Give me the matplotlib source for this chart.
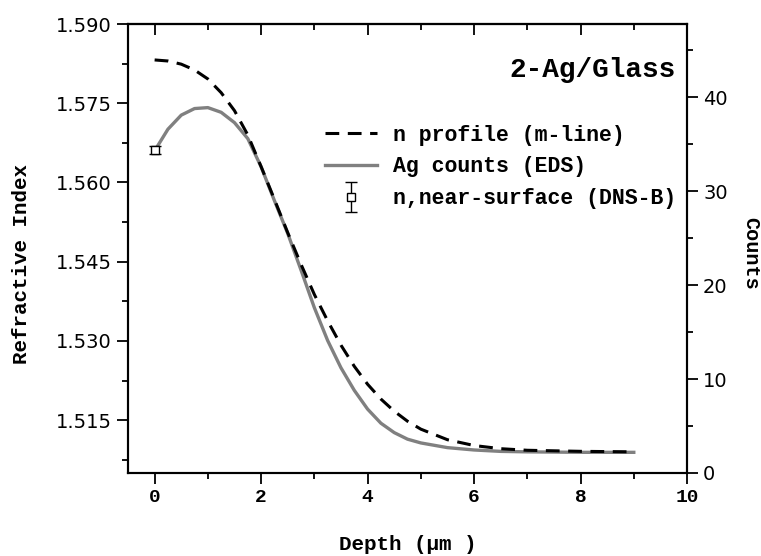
import matplotlib.pyplot as plt
from matplotlib.ticker import MultipleLocator
from matplotlib.container import ErrorbarContainer
from matplotlib.legend_handler import HandlerErrorbar

# refractive index profile from m-line (dashed)
depth_n = [0.0, 0.25, 0.5, 0.75, 1.0, 1.25, 1.5, 1.75, 2.0, 2.25, 2.5, 2.75, 3.0, 3.25,
           3.5, 3.75, 4.0, 4.25, 4.5, 4.75, 5.0, 5.5, 6.0, 6.5, 7.0, 7.5, 8.0, 9.0]
n_profile = [1.5832, 1.5830, 1.5824, 1.5813, 1.5796, 1.5770, 1.5736, 1.5690, 1.5630,
             1.5568, 1.5505, 1.5445, 1.5388, 1.5338, 1.5292, 1.5252, 1.5218, 1.5190,
             1.5167, 1.5148, 1.5133, 1.5113, 1.5102, 1.5096, 1.5093, 1.5092, 1.5091, 1.5090]

# Ag counts from EDS (grey)
depth_ag = [0.0, 0.25, 0.5, 0.75, 1.0, 1.25, 1.5, 1.75, 2.0, 2.25, 2.5, 2.75, 3.0, 3.25,
            3.5, 3.75, 4.0, 4.25, 4.5, 4.75, 5.0, 5.5, 6.0, 6.5, 7.0, 8.0, 9.0]
ag_counts = [34.3, 36.6, 38.1, 38.8, 38.9, 38.4, 37.3, 35.6, 32.6, 29.0, 25.5, 21.6, 17.6,
             14.1, 11.2, 8.8, 6.8, 5.3, 4.3, 3.6, 3.2, 2.7, 2.45, 2.3, 2.25, 2.2, 2.2]

# near-surface index point
surf_depth = [0.0]
surf_n = [1.5662]
surf_err = [0.0008]

x_ticks = [0, 2, 4, 6, 8, 10]
x_labels = ['0', '2', '4', '6', '8', '10']

mono = 'Liberation Mono'
bold = dict(family=mono, weight='bold')

fig = plt.figure(figsize=(7.61, 5.56), dpi=100)
ax = fig.add_axes([0.1682, 0.1493, 0.7346, 0.8075])
ax2 = ax.twinx()
ax.set_zorder(ax2.get_zorder() + 1)
ax.patch.set_visible(False)

l2, = ax2.plot(depth_ag, ag_counts, color='#808080', lw=2.4)
l1, = ax.plot(depth_n, n_profile, color='black', lw=2.2, dashes=(4.5, 2.8))
eb = ax.errorbar(surf_depth, surf_n, yerr=surf_err, fmt='s', mfc='white', mec='black',
                 ecolor='black', ms=6, mew=1.0, capsize=4, elinewidth=1.0, zorder=5)

ax.set_xlim(-0.5, 10)
ax.set_ylim(1.505, 1.590)
ax2.set_ylim(0, 47.8)

ax.set_xticks(x_ticks)
ax.set_xticklabels(x_labels, fontsize=14, **bold)
ax.xaxis.set_minor_locator(MultipleLocator(1))
ax.yaxis.set_major_locator(MultipleLocator(0.015))
ax.yaxis.set_minor_locator(MultipleLocator(0.0075))
ax.yaxis.set_major_formatter(plt.FormatStrFormatter('%.3f'))
ax2.yaxis.set_major_locator(MultipleLocator(10))
ax2.yaxis.set_minor_locator(MultipleLocator(5))

for a in (ax, ax2):
    a.tick_params(which='both', direction='out', width=1.3, labelsize=14)
    a.tick_params(which='major', length=8)
    a.tick_params(which='minor', length=4.5)
    for s in a.spines.values():
        s.set_linewidth(1.5)

top = ax.secondary_xaxis('top')
top.set_xticks(x_ticks)
top.xaxis.set_minor_locator(MultipleLocator(1))
top.tick_params(which='both', direction='in', labeltop=False, width=1.3)
top.tick_params(which='major', length=8)
top.tick_params(which='minor', length=4.5)
top.spines['top'].set_linewidth(1.5)

ax.set_xlabel('Depth (\u03bcm )', fontsize=15, labelpad=21, **bold)
ax.set_ylabel('Refractive Index', fontsize=15, ha='center', va='center', **bold)
ax.yaxis.set_label_coords(-0.19, 0.465)
ax2.set_ylabel('Counts', fontsize=14.5, rotation=270, ha='center', va='center', **bold)
ax2.yaxis.set_label_coords(1.114, 0.49)

ax.text(0.98, 0.898, '2-Ag/Glass', transform=ax.transAxes, ha='right', va='center',
        fontsize=20, **bold)

ax.legend([l1, l2, eb], ['n profile (m-line)', 'Ag counts (EDS)', 'n,near-surface (DNS-B)'],
          loc='upper left', bbox_to_anchor=(0.337, 0.795), frameon=False,
          prop=dict(family=mono, weight='bold', size=15.5), handlelength=2.4,
          handletextpad=0.75, labelspacing=0.5, borderaxespad=0,
          handler_map={ErrorbarContainer: HandlerErrorbar(yerr_size=0.7)})

fig.savefig('out.png', dpi=100)
